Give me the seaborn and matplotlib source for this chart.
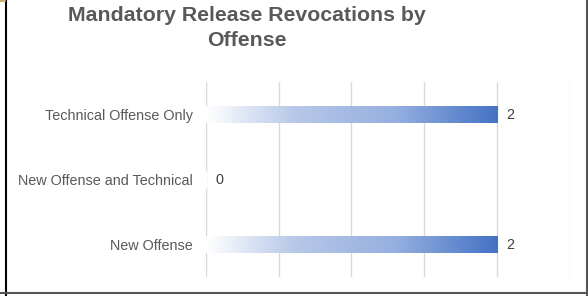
import matplotlib
matplotlib.use("Agg")
import matplotlib.pyplot as plt
import seaborn as sns
import numpy as np
import pandas as pd
from matplotlib.colors import LinearSegmentedColormap
from matplotlib.lines import Line2D

categories = ["Technical Offense Only", "New Offense and Technical", "New Offense"]
values = [2, 0, 2]
title = "Mandatory Release Revocations by\nOffense"

sns.set_style("white")
plt.rcParams['font.family'] = ['Liberation Sans', 'DejaVu Sans']

df = pd.DataFrame({"cat": categories, "val": values})

fig = plt.figure(figsize=(5.88, 2.96), dpi=100)
ax = fig.add_axes([0.350, 0.064, 0.619, 0.659])

sns.barplot(data=df, x="val", y="cat", orient="h", ax=ax, width=0.26,
            color="#4472C4", order=categories)

cmap = LinearSegmentedColormap.from_list(
    "grad", [(0, "#ffffff"), (0.3, "#b7c8e8"), (0.65, "#95afe0"), (1, "#4472C4")])
grad = np.linspace(0, 1, 256).reshape(1, -1)
for p in ax.patches:
    w = p.get_width()
    if w <= 0:
        continue
    x0, y0 = p.get_x(), p.get_y()
    h = p.get_height()
    p.set_facecolor("none")
    p.set_edgecolor("none")
    im = ax.imshow(grad, cmap=cmap, aspect="auto", extent=[x0, x0 + w, y0 + h, y0],
                   zorder=3, interpolation="bicubic")
    im.set_clip_path(p)

ax.set_xlim(0, 2.5)
ax.set_ylim(2.5, -0.5)
ax.set_xticks([0, 0.5, 1, 1.5, 2, 2.5])
ax.xaxis.grid(True, color="#d9d9d9", linewidth=1)
ax.set_axisbelow(True)
ax.tick_params(axis="x", length=0, labelbottom=False)
ax.tick_params(axis="y", length=0, pad=9.5, labelsize=10.4, labelcolor="#595959")
for s in ax.spines.values():
    s.set_visible(False)
ax.set_xlabel("")
ax.set_ylabel("")

for i, v in enumerate(values):
    ax.annotate(str(v), xy=(v, i), xytext=(7, 0), textcoords="offset points",
                va="center", ha="left", fontsize=10.4, color="#404040")

fig.text(0.42, 0.905, title, ha="center", va="center", fontsize=15.3,
         fontweight="bold", color="#595959", linespacing=1.35)

# frame lines
fig.add_artist(Line2D([6/588, 6/588], [0, 1], color="black", linewidth=1.5))
fig.add_artist(Line2D([0, 1], [1 - 293/296] * 2, color="#555555", linewidth=1.5))
fig.add_artist(Line2D([587/588] * 2, [0, 1], color="#555555", linewidth=1.5))
fig.add_artist(Line2D([0, 5/588], [1 - 1/296] * 2, color="#c9b26b", linewidth=1.5))

fig.savefig("out.png", dpi=100, facecolor="white")
